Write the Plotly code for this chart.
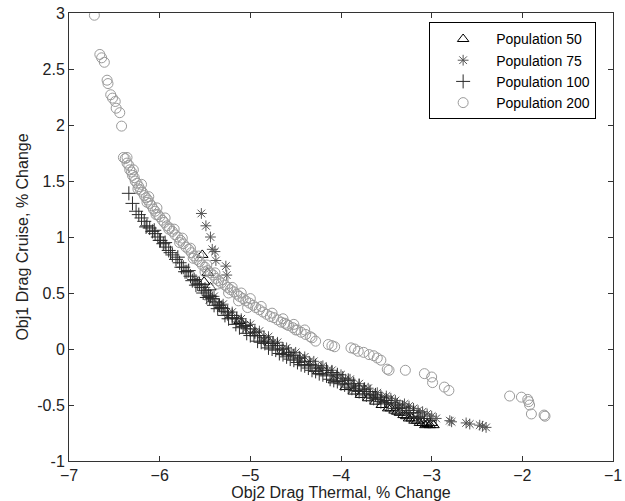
import plotly.graph_objects as go

# Population 50 (triangles)
p50_x = [-5.53, -5.47, -5.51, -5.44, -5.30, -5.12, -4.95, -4.78, -4.60, -4.42, -4.25, -4.08,
         -3.95, -3.86, -3.78, -3.70, -3.62, -3.55, -3.48, -3.41, -3.35, -3.28, -3.22, -3.16,
         -3.10, -3.05, -3.02, -2.98, -3.00, -3.07, -3.13, -3.19, -3.25, -3.31, -3.38, -3.45]
p50_y = [0.84, 0.68, 0.60, 0.55, 0.36, 0.25, 0.14, 0.05, -0.03, -0.12, -0.20, -0.28,
         -0.34, -0.38, -0.41, -0.44, -0.47, -0.50, -0.53, -0.55, -0.57, -0.60, -0.62, -0.64,
         -0.66, -0.67, -0.68, -0.68, -0.66, -0.68, -0.66, -0.64, -0.62, -0.59, -0.56, -0.53]

# Population 75 (asterisks)
p75_x = [-5.54, -5.49, -5.44, -5.42, -5.39, -5.38, -5.27, -5.26,
         -5.60, -5.50, -5.40, -5.30, -5.20, -5.10, -5.00, -4.90, -4.80, -4.70, -4.60, -4.50,
         -4.40, -4.30, -4.20, -4.10, -4.00, -3.90, -3.80, -3.70, -3.60, -3.50, -3.40, -3.30,
         -3.20, -3.10, -3.00, -2.95, -3.45, -3.25, -3.15, -3.05,
         -5.35, -5.15, -4.95, -4.75, -4.55, -4.35, -4.15, -3.95, -3.75, -3.55, -3.35,
         -5.45, -5.25, -5.05, -4.85, -4.65, -4.45, -4.25, -4.05, -3.85, -3.65,
         -2.80, -2.78, -2.62, -2.58, -2.47, -2.44, -2.40]
p75_y = [1.21, 1.10, 1.00, 0.89, 0.87, 0.79, 0.74, 0.66,
         0.62, 0.55, 0.47, 0.40, 0.33, 0.27, 0.22, 0.16, 0.11, 0.06, 0.01, -0.03,
         -0.07, -0.11, -0.15, -0.19, -0.23, -0.27, -0.31, -0.35, -0.39, -0.42, -0.46, -0.49,
         -0.53, -0.56, -0.60, -0.62, -0.44, -0.51, -0.55, -0.58,
         0.40, 0.27, 0.15, 0.06, -0.03, -0.11, -0.19, -0.27, -0.35, -0.43, -0.50,
         0.44, 0.30, 0.18, 0.08, 0.00, -0.08, -0.17, -0.24, -0.33, -0.41,
         -0.64, -0.65, -0.66, -0.67, -0.68, -0.69, -0.70]

# Population 100 (plus)
p100_x = [-6.34, -6.30, -6.26, -6.23, -6.20, -6.17, -6.14, -6.11, -6.08, -6.05, -6.02, -5.99,
          -5.96, -5.93, -5.90, -5.86, -5.82, -5.78, -5.74, -5.70, -5.66, -5.62, -5.58, -5.54,
          -5.50, -5.46, -5.42, -5.38, -5.34, -5.30, -5.25, -5.20, -5.15, -5.10, -5.05, -5.00,
          -4.95, -4.90, -4.85, -4.80, -4.75, -4.70, -4.64, -4.58, -4.52, -4.46, -4.40, -4.34,
          -4.28, -4.22, -4.16, -4.10, -4.04, -3.98, -3.92, -3.86, -3.80, -3.74, -3.68, -3.62,
          -3.56, -3.50, -3.44, -3.38, -3.32, -3.26, -3.20, -3.14, -3.08, -3.02,
          -6.15, -6.00, -5.88, -5.76, -5.64, -5.52, -5.40, -5.28, -5.16, -5.04, -4.92, -4.80,
          -4.68, -4.56, -4.44, -4.32, -4.20, -4.08, -3.96, -3.84, -3.72, -3.60, -3.48, -3.36,
          -3.24, -3.12,
          -6.06, -5.94, -5.80, -5.68, -5.56, -5.44, -5.32, -5.20, -5.08, -4.96, -4.84, -4.72,
          -4.60, -4.48, -4.36, -4.24, -4.12, -4.00, -3.88, -3.76, -3.64, -3.52, -3.40, -3.28,
          -3.16,
          -5.72, -5.60, -5.48, -5.36, -5.24, -5.12, -5.00, -4.88, -4.76, -4.64, -4.52, -4.40,
          -4.28, -4.16, -4.04, -3.92, -3.80, -3.68, -3.56]
p100_y = [1.39, 1.30, 1.23, 1.20, 1.17, 1.14, 1.10, 1.08, 1.05, 1.03, 1.00, 0.97,
          0.94, 0.91, 0.88, 0.84, 0.80, 0.77, 0.73, 0.69, 0.65, 0.62, 0.58, 0.55,
          0.52, 0.48, 0.45, 0.42, 0.39, 0.36, 0.33, 0.30, 0.27, 0.24, 0.21, 0.18,
          0.15, 0.12, 0.10, 0.07, 0.05, 0.03, 0.00, -0.03, -0.06, -0.08, -0.11, -0.14,
          -0.15, -0.17, -0.19, -0.21, -0.23, -0.26, -0.28, -0.31, -0.33, -0.36, -0.38, -0.41,
          -0.43, -0.46, -0.48, -0.50, -0.52, -0.55, -0.57, -0.60, -0.62, -0.64,
          1.09, 0.97, 0.86, 0.73, 0.61, 0.50, 0.39, 0.30, 0.22, 0.14, 0.07, 0.01,
          -0.04, -0.09, -0.14, -0.19, -0.23, -0.28, -0.32, -0.37, -0.41, -0.45, -0.49, -0.53,
          -0.57, -0.62,
          1.06, 0.95, 0.82, 0.70, 0.58, 0.47, 0.37, 0.28, 0.20, 0.12, 0.05, -0.01,
          -0.07, -0.12, -0.17, -0.22, -0.27, -0.31, -0.35, -0.40, -0.44, -0.48, -0.53, -0.57,
          -0.61,
          0.69, 0.57, 0.46, 0.36, 0.27, 0.19, 0.12, 0.06, 0.00, -0.05, -0.10, -0.15,
          -0.20, -0.24, -0.29, -0.34, -0.38, -0.43, -0.47]

# Population 200 (circles)
p200_x = [-6.72, -6.66, -6.64, -6.61, -6.58, -6.57, -6.54, -6.52, -6.49, -6.48, -6.44, -6.42,
          -6.40, -6.36,
          -6.38, -6.36, -6.34, -6.33, -6.31, -6.30, -6.28, -6.27, -6.25, -6.23, -6.21, -6.19,
          -6.17, -6.15, -6.13, -6.11, -6.09, -6.07, -6.05, -6.02, -6.00, -5.97, -5.95, -5.92,
          -5.89, -5.86, -5.83, -5.80, -5.77, -5.74, -5.71, -5.68, -5.65, -5.62, -5.59, -5.56,
          -5.53, -5.50, -5.47, -5.44, -5.41, -5.38, -5.35, -5.32, -5.28, -5.25, -5.22, -5.18,
          -5.15, -5.12, -5.08, -5.05, -5.01, -4.97, -4.94, -4.90, -4.86, -4.82, -4.78, -4.74,
          -4.70, -4.66, -4.62, -4.58, -4.53, -4.48, -4.44, -4.39, -4.34,
          -6.29, -6.20, -6.12, -6.03, -5.94, -5.84, -5.75, -5.66, -5.57, -5.48, -5.39, -5.30,
          -5.20, -5.10, -5.00, -4.88, -4.76, -4.64, -4.52, -4.40,
          -6.24, -6.14, -6.04, -5.90, -5.78, -5.63, -5.50, -5.36, -5.24, -5.13, -5.03,
          -4.60, -4.50, -4.32, -4.28, -4.14, -4.10, -4.07, -3.89, -3.85, -3.81, -3.75, -3.69,
          -3.64, -3.60, -3.56, -3.49, -3.47, -3.29, -3.08, -3.00, -2.99, -2.86, -2.81,
          -2.14, -2.01, -1.94, -1.93, -1.92, -1.90, -1.76, -1.75]
p200_y = [2.98, 2.63, 2.60, 2.56, 2.40, 2.37, 2.27, 2.24, 2.21, 2.15, 2.11, 1.99,
          1.71, 1.71,
          1.70, 1.66, 1.64, 1.60, 1.58, 1.55, 1.53, 1.50, 1.48, 1.45, 1.42, 1.40,
          1.37, 1.35, 1.33, 1.30, 1.28, 1.25, 1.23, 1.20, 1.18, 1.15, 1.13, 1.10,
          1.08, 1.05, 1.02, 1.00, 0.97, 0.94, 0.91, 0.89, 0.86, 0.83, 0.80, 0.78,
          0.75, 0.73, 0.70, 0.68, 0.66, 0.63, 0.61, 0.59, 0.57, 0.55, 0.53, 0.51,
          0.49, 0.47, 0.45, 0.43, 0.41, 0.39, 0.37, 0.35, 0.33, 0.31, 0.29, 0.28,
          0.26, 0.24, 0.23, 0.21, 0.19, 0.17, 0.15, 0.13, 0.11,
          1.60, 1.47, 1.36, 1.26, 1.17, 1.07, 0.99, 0.90, 0.83, 0.75, 0.68, 0.62,
          0.55, 0.50, 0.45, 0.38, 0.32, 0.27, 0.22, 0.17,
          1.43, 1.31, 1.20, 1.07, 0.95, 0.81, 0.69, 0.58, 0.50, 0.43, 0.37,
          0.22, 0.17, 0.10, 0.07, 0.04, 0.03, 0.02, 0.01, 0.00, -0.02, -0.03, -0.05,
          -0.06, -0.08, -0.10, -0.18, -0.19, -0.19, -0.22, -0.25, -0.30, -0.34, -0.37,
          -0.42, -0.43, -0.45, -0.47, -0.50, -0.58, -0.59, -0.60]

x_ticks = [-7, -6, -5, -4, -3, -2, -1]
y_ticks = [-1, -0.5, 0, 0.5, 1, 1.5, 2, 2.5, 3]
y_tick_text = ["-1", "-0.5", "0", "0.5", "1", "1.5", "2", "2.5", "3"]

FONT = "Liberation Sans, Arial, sans-serif"

fig = go.Figure()
fig.add_trace(go.Scatter(x=p50_x, y=p50_y, mode="markers", name="Population 50",
                         marker=dict(symbol="triangle-up-open", size=10, color="#000000",
                                     line=dict(width=1, color="#000000"))))
fig.add_trace(go.Scatter(x=p75_x, y=p75_y, mode="markers", name="Population 75",
                         marker=dict(symbol="asterisk-open", size=9, color="#555555",
                                     line=dict(width=1, color="#555555"))))
fig.add_trace(go.Scatter(x=p100_x, y=p100_y, mode="markers", name="Population 100",
                         marker=dict(symbol="cross-thin-open", size=10, color="#2a2a2a",
                                     line=dict(width=1, color="#2a2a2a"))))
fig.add_trace(go.Scatter(x=p200_x, y=p200_y, mode="markers", name="Population 200",
                         marker=dict(symbol="circle-open", size=10, color="#9a9a9a",
                                     line=dict(width=1, color="#9a9a9a"))))

axis_common = dict(showgrid=False, zeroline=False, showline=True, linecolor="#333333",
                   linewidth=1, mirror="ticks", ticks="inside", ticklen=5, tickcolor="#333333",
                   ticklabeloverflow="allow",
                   tickfont=dict(family=FONT, size=16, color="#222222"))

fig.update_layout(
    width=625, height=501,
    margin=dict(l=69, r=3, t=13, b=40),
    paper_bgcolor="white", plot_bgcolor="white",
    font=dict(family=FONT, size=16, color="#222222"),
    xaxis=dict(range=[-7, -1], tickvals=x_ticks, title=dict(text="Obj2 Drag Thermal, % Change",
               font=dict(family=FONT, size=16), standoff=2), **axis_common),
    yaxis=dict(range=[-1, 3], tickvals=y_ticks, ticktext=y_tick_text,
               title=dict(text="Obj1 Drag Cruise, % Change", font=dict(family=FONT, size=16),
                          standoff=4), **axis_common),
    legend=dict(x=0.969, y=0.979, xanchor="right", yanchor="top", bgcolor="white",
                bordercolor="#000000", borderwidth=1, itemwidth=56,
                font=dict(family=FONT, size=14, color="#000000"), tracegroupgap=0),
    showlegend=True,
)

fig.write_html("out.html")
